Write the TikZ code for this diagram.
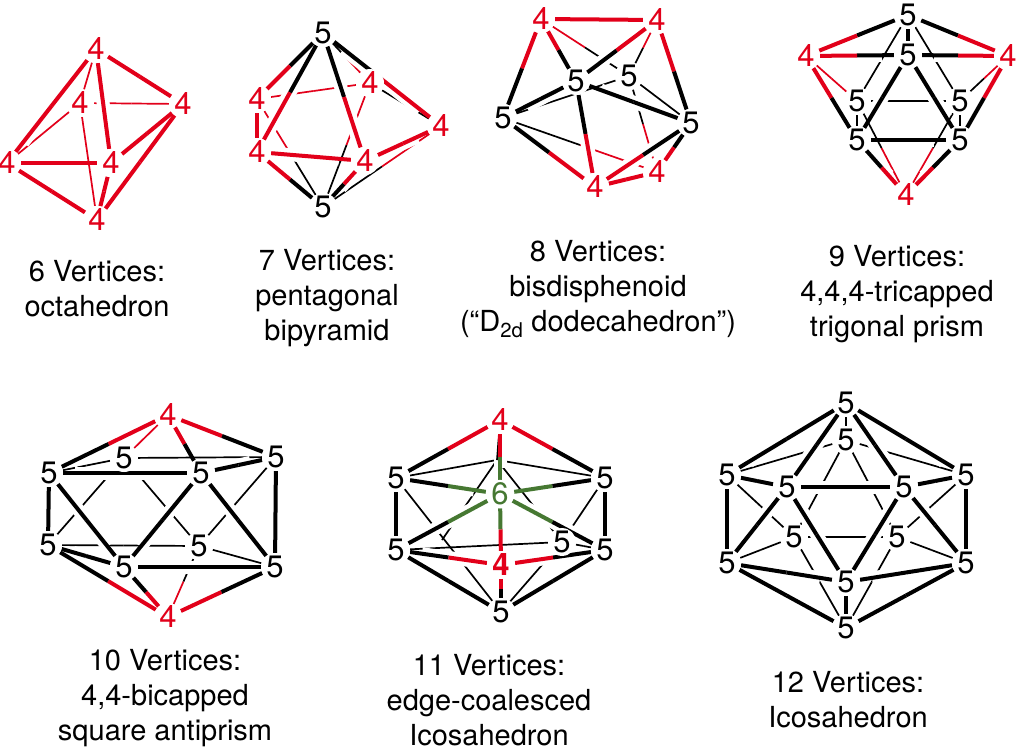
\documentclass[tikz,border=0pt]{standalone}
\usepackage{fontspec}
\setmainfont{TeX Gyre Heros}
\usetikzlibrary{calc,backgrounds}

\definecolor{rd}{RGB}{226,0,26}
\definecolor{bk}{RGB}{0,0,0}
\definecolor{gn}{RGB}{70,120,50}

\tikzset{
  vtx/.style={circle,fill=white,inner sep=0pt,minimum size=28pt,font=\fontsize{31}{33}\selectfont},
  vr/.style={vtx,text=rd},
  vk/.style={vtx,text=bk},
  vg/.style={vtx,text=gn},
  caption/.style={align=center,font=\fontsize{29}{35}\selectfont},
  thinbond/.style={line width=1.7pt},
  thickbond/.style={line width=4pt},
  halo/.style={draw=white,line width=13pt,shorten <=12pt,shorten >=12pt}
}

% bonds: from/to/colour at from/colour at to
\newcommand{\thinbonds}{
  oT/oB/rd/rd, oB/oR/rd/rd, oB/oL/rd/rd, oB/oD/rd/rd,
  pa/pe/rd/rd, pe/pd/bk/bk, pA/pe/bk/rd, pZ/pa/bk/rd, pZ/pe/bk/rd, pZ/pd/bk/rd,
  dp/dn/rd/bk, dq/dn/rd/bk, dl/dn/bk/bk, dl/dv/bk/rd, dn/dr/bk/bk, dn/dv/bk/rd,
  tA/tC/bk/bk, tA/tD/bk/bk, tC/tD/bk/bk, tC/tE/bk/bk, tD/tF/bk/bk, tL/tC/rd/rd,
  tR/tD/rd/bk, tG/tC/rd/bk, tG/tD/rd/bk,
  aT/aD/rd/rd, aA/aD/bk/bk, aD/aG/bk/bk, aB/aF/bk/bk, aF/aH/bk/bk, aD/aB/bk/bk,
  aD/aF/bk/bk, aG/aF/bk/bk, aS/aF/rd/bk,
  eA/eW/bk/bk, eE/eW/bk/bk, eW/eV/bk/bk, eB/eK/bk/bk, eA/eU/bk/bk, eW/eK/bk/bk,
  eU/eK/bk/bk, eF/eK/bk/bk, eE/eK/bk/bk,
  ia/ib/bk/bk, ib/ic/bk/bk, ib/if/bk/bk, ib/ig/bk/bk, ib/ih/bk/bk, ic/ig/bk/bk,
  if/ih/bk/bk, ig/ih/bk/bk, ig/ii/bk/bk, ih/ik/bk/bk, ig/im/bk/bk, ih/im/bk/bk}

\newcommand{\thickbonds}{
  oT/oL/rd/rd, oT/oF/rd/rd, oT/oR/rd/rd, oL/oF/rd/rd, oL/oD/rd/rd, oF/oR/rd/rd,
  oF/oD/rd/rd, oR/oD/rd/rd,
  pA/pa/bk/rd, pA/pb/bk/rd, pA/pc/bk/rd, pA/pd/bk/rd, pZ/pb/bk/rd, pZ/pc/bk/rd,
  pa/pb/rd/rd, pb/pc/rd/rd, pc/pd/rd/rd,
  dp/dq/rd/rd, dp/dl/rd/bk, dp/dm/rd/bk, dq/dm/rd/bk, dq/dr/rd/bk, dm/dl/bk/bk,
  dm/dr/bk/bk, dm/du/bk/rd, dl/du/bk/rd, dr/du/bk/rd, dr/dv/bk/rd, du/dv/rd/rd,
  tA/tL/bk/rd, tA/tR/bk/rd, tA/tB/bk/bk, tB/tL/bk/rd, tB/tR/bk/rd, tB/tE/bk/bk,
  tB/tF/bk/bk, tE/tF/bk/bk, tL/tE/rd/bk, tR/tF/rd/bk, tG/tE/rd/bk, tG/tF/rd/bk,
  aT/aA/rd/bk, aT/aG/rd/bk, aT/aE/rd/bk, aA/aE/bk/bk, aE/aG/bk/bk, aA/aB/bk/bk,
  aG/aH/bk/bk, aA/aC/bk/bk, aC/aE/bk/bk, aE/aH/bk/bk, aB/aC/bk/bk, aC/aH/bk/bk,
  aS/aC/rd/bk, aS/aB/rd/bk, aS/aH/rd/bk,
  eT/eA/rd/bk, eT/eE/rd/bk, eT/eZ/rd/gn, eZ/eA/gn/bk, eZ/eE/gn/bk, eZ/eB/gn/bk,
  eZ/eF/gn/bk, eZ/eX/gn/rd, eB/eX/bk/rd, eF/eX/bk/rd, eX/eU/rd/bk, eA/eB/bk/bk,
  eE/eF/bk/bk, eB/eU/bk/bk, eF/eU/bk/bk,
  ia/ic/bk/bk, ia/id/bk/bk, ia/ie/bk/bk, ia/if/bk/bk, id/ie/bk/bk, id/ic/bk/bk,
  ie/if/bk/bk, id/ii/bk/bk, ie/ik/bk/bk, id/ij/bk/bk, ie/ij/bk/bk, ic/ii/bk/bk,
  if/ik/bk/bk, ii/ij/bk/bk, ij/ik/bk/bk, ii/im/bk/bk, ik/im/bk/bk, ij/im/bk/bk}

\begin{document}
\begin{tikzpicture}[x=1pt,y=-1pt]
\useasboundingbox (0,0) rectangle (1019,752);

% 6 vertices
\node[vr] (oT) at (96,49) {4};
\node[vr] (oB) at (80,103) {4};
\node[vr] (oR) at (183,104) {4};
\node[vr] (oL) at (7,163) {4};
\node[vr] (oF) at (111,163) {4};
\node[vr] (oD) at (97,220) {4};
\node[caption] (cap6) at (97,289) {6 Vertices:\\octahedron};

% 7 vertices
\node[vk] (pA) at (323,33) {5};
\node[vk] (pZ) at (323,207) {5};
\node[vr] (pa) at (257,99) {4};
\node[vr] (pb) at (257,152) {4};
\node[vr] (pc) at (365,161) {4};
\node[vr] (pd) at (441,126) {4};
\node[vr] (pe) at (370,83) {4};
\node[caption] (cap7) at (327,298) {7 Vertices:\\pentagonal\\bipyramid};

% 8 vertices
\node[vr] (dp) at (541,19) {4};
\node[vr] (dq) at (657,20) {4};
\node[vk] (dm) at (576,81) {5};
\node[vk] (dn) at (629,76) {5};
\node[vk] (dl) at (503,118) {5};
\node[vk] (dr) at (691,123) {5};
\node[vr] (du) at (595,187) {4};
\node[vr] (dv) at (657,172) {4};
\node[caption] (cap8) at (598,289) {8 Vertices:\\bisdisphenoid\\(“D\textsubscript{2d} dodecahedron”)};

% 9 vertices
\node[vk] (tA) at (908,15) {5};
\node[vk] (tB) at (908,55) {5};
\node[vr] (tL) at (806,56) {4};
\node[vr] (tR) at (1008,56) {4};
\node[vk] (tC) at (857,101) {5};
\node[vk] (tD) at (960,101) {5};
\node[vk] (tE) at (857,140) {5};
\node[vk] (tF) at (960,140) {5};
\node[vr] (tG) at (906,195) {4};
\node[caption] (cap9) at (897,294) {9 Vertices:\\4,4,4-tricapped\\trigonal prism};

% 10 vertices
\node[vr] (aT) at (168,415) {4};
\node[vr] (aS) at (168,617) {4};
\node[vk] (aA) at (49,473) {5};
\node[vk] (aB) at (48,545) {5};
\node[vk] (aC) at (124,567) {5};
\node[vk] (aD) at (124,458) {5};
\node[vk] (aE) at (201,473) {5};
\node[vk] (aF) at (199,546) {5};
\node[vk] (aG) at (276,457) {5};
\node[vk] (aH) at (275,567) {5};
\node[caption] (cap10) at (165,698) {10 Vertices:\\4,4-bicapped\\square antiprism};

% 11 vertices
\node[vr] (eT) at (500,420) {4};
\node[vg] (eZ) at (500,494) {6};
\node[vr,font=\fontsize{31}{33}\selectfont\bfseries] (eX) at (501,565) {4};
\node[vk] (eU) at (501,612) {5};
\node[vk] (eA) at (396,478) {5};
\node[vk] (eB) at (396,550) {5};
\node[vk] (eE) at (605,478) {5};
\node[vk] (eF) at (605,550) {5};
\node[vk,minimum size=22pt] (eK) at (562,542) {5};
\coordinate (eW) at (497,460);
\coordinate (eV) at (442,540);
\node[caption] (cap11) at (489,700) {11 Vertices:\\edge-coalesced\\Icosahedron};

% 12 vertices
\node[vk] (ia) at (846,403) {5};
\node[vk] (ib) at (846,440) {5};
\node[vk] (ic) at (727,475) {5};
\node[vk] (id) at (787,487) {5};
\node[vk] (ie) at (904,487) {5};
\node[vk] (if) at (966,475) {5};
\node[vk] (ig) at (794,537) {5};
\node[vk] (ih) at (897,537) {5};
\node[vk] (ii) at (727,563) {5};
\node[vk] (ij) at (846,582) {5};
\node[vk] (ik) at (966,563) {5};
\node[vk] (im) at (846,628) {5};
\node[caption] (cap12) at (848,700) {12 Vertices:\\Icosahedron};

\begin{pgfonlayer}{background}
\foreach \a/\b/\ca/\cb in \thinbonds {
  \draw[thinbond,draw=\ca] (\a) -- ($(\a)!.5!(\b)$);
  \draw[thinbond,draw=\cb] (\b) -- ($(\a)!.5!(\b)$);
}
\foreach \a/\b/\ca/\cb in \thickbonds {
  \draw[halo] (\a) -- (\b);
}
\draw[thinbond,draw=rd] (eT) -- ($(eT)!.5!(eW)$);
\draw[thinbond,draw=bk] (eW) -- ($(eT)!.5!(eW)$);
\foreach \a/\b/\ca/\cb in \thickbonds {
  \draw[thickbond,draw=\ca] (\a) -- ($(\a)!.5!(\b)$);
  \draw[thickbond,draw=\cb] (\b) -- ($(\a)!.5!(\b)$);
}
\end{pgfonlayer}
\end{tikzpicture}
\end{document}
